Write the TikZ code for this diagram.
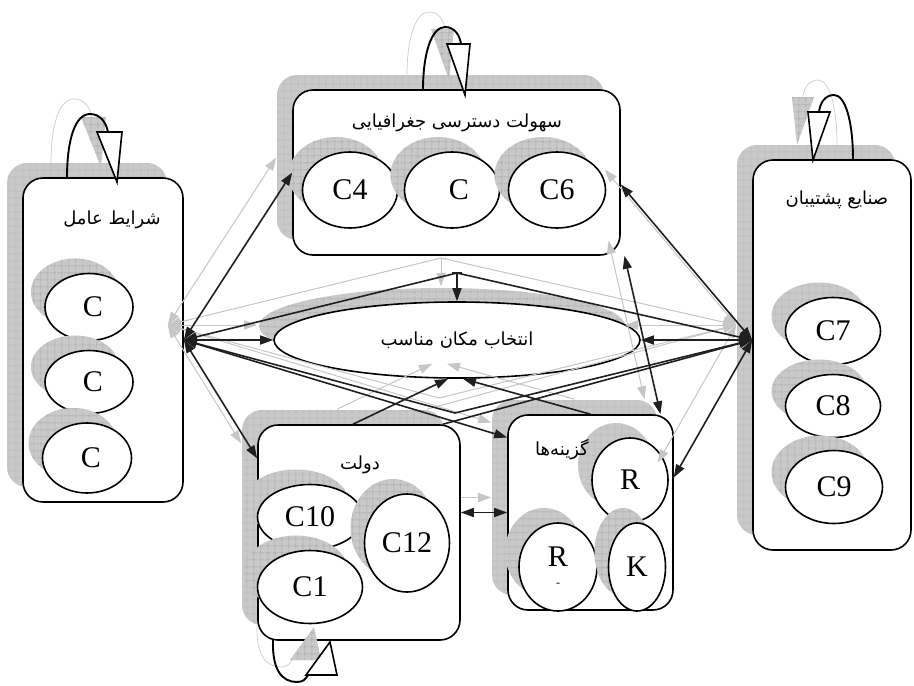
\documentclass[tikz,border=0pt]{standalone}
\usepackage{fontspec}
\setmainfont{Liberation Serif}
\newfontfamily\fa[Script=Arabic]{DejaVu Sans}
\TeXXeTstate=1
\usetikzlibrary{shapes.geometric,arrows.meta,patterns.meta,calc}
\pgfdeclarelayer{early}
\pgfdeclarelayer{lshadow}
\pgfsetlayers{early,lshadow,main}
\tikzset{
  shd/.style={fill=gray!42,
    postaction={pattern={Lines[angle=0,distance=6.5pt,line width=0.45pt]},pattern color=gray!72},
    postaction={pattern={Lines[angle=90,distance=6.5pt,line width=0.45pt]},pattern color=gray!72}},
  box/.style={draw, line width=1.6pt, fill=white, rounded corners=20pt, inner sep=0pt},
  bsh/.style={shd, rounded corners=20pt, inner sep=0pt},
  ellp/.style={ellipse, draw, line width=1.6pt, fill=white, inner sep=0pt, align=center,
    font=\fontsize{30}{30}\selectfont},
  esh/.style={ellipse, shd, inner sep=0pt},
  ttl/.style={font=\fa\fontsize{18}{21}\selectfont, inner sep=0pt},
  cn/.style={draw=black!88, line width=1.6pt},
  lp/.style={draw=black, line width=1.9pt},
  tri/.style={fill=white, draw=black, line width=1.6pt, line join=miter},
  trish/.style={shd},
  lpsh/.style={draw=gray!40, line width=0.7pt},
}
\newcommand\shbox[5]{%
  \node[bsh, minimum width=#4pt, minimum height=#5pt] at ({#2-16},{#3-15}) {};
  \node[box, minimum width=#4pt, minimum height=#5pt] (#1) at (#2,#3) {};}
\newcommand\shell[6]{%
  \node[esh, minimum width=#4pt, minimum height=#5pt] at ({#2-14},{#3-15}) {};
  \node[ellp, minimum width=#4pt, minimum height=#5pt] (#1) at (#2,#3) {#6};}
\newcommand\links{%
  \draw[cn,<->] (LH) -- (tbox.west);
  \draw[cn,<->] (RH) -- ([yshift=-12pt]tbox.east);
  \draw[cn,<->] (LH) -- (goal.west);
  \draw[cn,<->] (RH) -- (goal.east);
  \draw[cn,<->] (LH) -- (apex) -- (RH);
  \draw[cn,->] (apex) -- (goal.north);
  \draw[cn] ([xshift=-5pt]apex) -- ([xshift=5pt]apex);
  \draw[cn,<->] (LH) -- (vtx) -- (RH);
  \draw[cn,<->] (LH) -- ([yshift=75pt]gbox.west);
  \draw[cn,<->] (LH) -- ([yshift=74pt]dbox.west);
  \draw[cn,->] ([xshift=-6pt]dbox.north) -- ([xshift=-9pt]goal.south);
  \draw[cn,->] (gbox.north) -- ([xshift=6pt]goal.south);
  \draw[cn,<-] (RH) -- ([xshift=84pt]dbox.north);
  \draw[cn,<->] (RH) -- ([yshift=35pt]gbox.east);
  \draw[cn,<->] ([xshift=168pt]tbox.south) -- ([xshift=70pt]gbox.north);
  \draw[cn,<->] (dbox.east |- gbox.west) -- (gbox.west);
}
\newcommand\loops[2]{%
  \draw[#1] (67,178) .. controls (67,140) and (75,114) .. (90,114) .. controls (100,114) and (106,122) .. (108,132);
  \path[#2] (97,132) -- (122,132) -- (117,182) -- cycle;
  \draw[#1] (423,90) .. controls (423,52) and (432,27) .. (445,27) .. controls (455,27) and (460,36) .. (461,44);
  \path[#2] (447,44) -- (470,44) -- (465,95) -- cycle;
  \draw[#1] (853,160) .. controls (853,120) and (845,95) .. (834,95) .. controls (825,95) and (820,103) .. (819,112);
  \path[#2] (808,112) -- (830,112) -- (813,160) -- cycle;
  \draw[#1] (273,640) .. controls (272,670) and (282,682) .. (297,682) .. controls (303,682) and (306,679) .. (308,675);
  \path[#2] (306,675) -- (337,675) -- (330,642) -- cycle;
}
\begin{document}
\begin{tikzpicture}[x=1pt,y=-1pt,>={Triangle[length=13pt,width=9pt]}]
\useasboundingbox (0,0) rectangle (914,686);
\begin{pgfonlayer}{early}
% left box
\shbox{lbox}{103}{340}{160}{324}
\node[ttl] (lt) at (112,220) {\beginR شرایط عامل\endR};
\shell{lc1}{89}{307}{88}{67}{\hspace*{8pt}C}
\shell{lc2}{89}{382}{88}{63}{\hspace*{8pt}C}
\shell{lc3}{87}{458}{89}{70}{\hspace*{8pt}C}
% top box
\shbox{tbox}{456.5}{172.5}{327}{165}
\node[ttl] (tt) at (457,123) {\beginR سهولت دسترسی جغرافیایی\endR};
\shell{tc4}{350}{190}{95}{76}{C4}
\shell{tc}{452}{190}{95}{76}{\hspace*{14pt}C}
\shell{tc6}{557}{190}{97}{76}{C6}
% right box
\shbox{rbox}{832}{355}{158}{390}
\node[ttl] (rt) at (837,200) {\beginR صنایع پشتیبان\endR};
\shell{rc7}{833}{331}{95}{67}{C7}
\shell{rc8}{833}{406}{95}{63}{C8}
\shell{rc9}{834}{487}{97}{73}{C9}
% goal
\node[esh, minimum width=366pt, minimum height=76pt] at (442,326) {};
\node[ellp, minimum width=366pt, minimum height=76pt] (goal) at (457,340)
  {\fa\fontsize{18}{21}\selectfont\beginR انتخاب مکان مناسب\endR};
% options box
\shbox{gbox}{590.5}{512.5}{165}{195}
\shell{gr}{630}{480}{76}{84}{R}
\shell{grm}{558}{567}{78}{88}{R\\[-10pt]{\fontsize{12}{12}\selectfont -}}
\shell{gk}{637}{567}{57}{88}{K}
\node[ttl] (gt) at (562,450) {\beginR گزینه‌ها\endR};
\end{pgfonlayer}
% hubs
\coordinate (LH) at (lbox.east);
\coordinate (RH) at ([yshift=15pt]rbox.west);
\coordinate (apex) at (457,273);
\coordinate (vtx) at (455,413);
% government box
\shbox{dbox}{359}{532.5}{202}{215}
\node[ttl] (dt) at (360,465) {\beginR دولت\endR};
\shell{dc10}{310}{517}{105}{65}{C10}
\shell{dc1}{310}{587}{105}{73}{C1}
\shell{dc12}{407}{543}{85}{98}{C12}
% connector shadows
\begin{pgfonlayer}{lshadow}
\begin{scope}[transform canvas={shift={(-16pt,15pt)}}, cn/.style={draw=gray!45, line width=1pt}]
  \links
\end{scope}
\end{pgfonlayer}
% loop shadows
\begin{scope}[transform canvas={shift={(-16pt,15pt)}}]
  \loops{lpsh}{trish}
\end{scope}
% black connectors and loops
\links
\loops{lp}{tri}
\end{tikzpicture}
\end{document}
